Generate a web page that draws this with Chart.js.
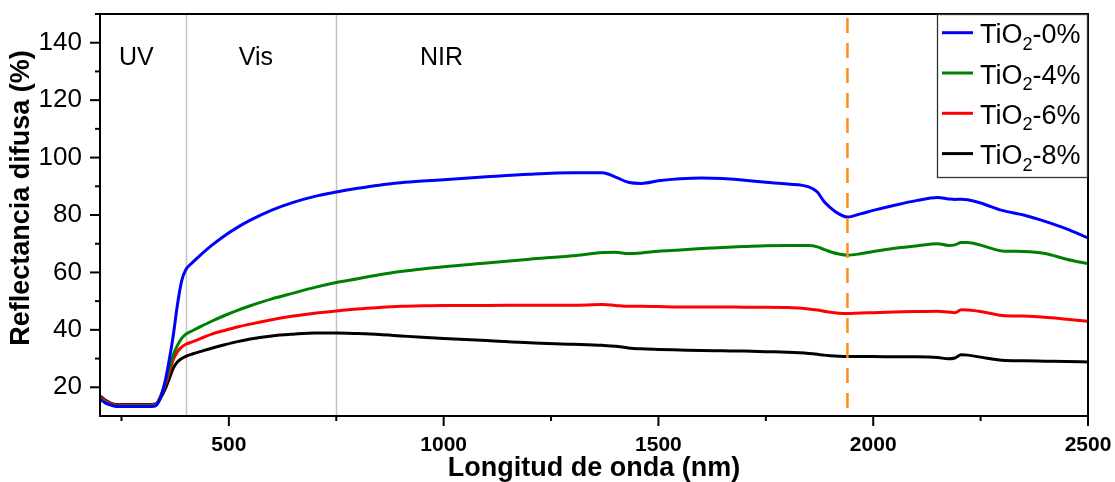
<!DOCTYPE html>
<html><head><meta charset="utf-8">
<script src="https://cdn.jsdelivr.net/npm/chart.js@4.4.1/dist/chart.umd.min.js"></script>
<style>html,body{margin:0;padding:0;background:#fff;}#wrap{width:1115px;height:482px;}</style>
</head><body>
<div id="wrap"><canvas id="c" width="1115" height="482"></canvas></div>
<script>
// ---- data ----
const wavelengths = [200,215,230,245,260,280,300,320,330,340,350,360,370,380,390,400,415,435,460,490,520,550,600,650,700,750,800,850,900,950,1000,1100,1200,1300,1370,1400,1430,1460,1500,1550,1600,1650,1700,1750,1800,1850,1870,1885,1900,1920,1940,1970,2000,2050,2100,2150,2175,2190,2205,2220,2250,2300,2350,2400,2450,2500];
const tio2_0 = [15.8,14.3,13.6,13.3,13.3,13.3,13.3,13.3,13.6,16,21,28.5,37.5,48.5,57,61,63.4,66.2,69.4,72.8,75.7,78.2,81.7,84.4,86.5,88,89.3,90.4,91.2,91.8,92.3,93.3,94.2,94.7,94.7,93.2,91.4,91.0,91.9,92.6,92.9,92.7,92.1,91.4,90.8,89.8,88,84.8,82.6,80.4,79.3,80.4,81.6,83.4,85.0,86.1,85.6,85.4,85.5,85.3,84.2,81.6,80.0,77.8,75.2,72.0];
const tio2_4 = [16.2,14.6,13.8,13.5,13.6,13.6,13.6,13.6,13.8,16.5,20.8,26,31.1,34.5,37,38.5,39.7,41.2,43,45.0,46.8,48.4,50.8,52.8,54.8,56.5,57.8,59.2,60.3,61.2,62,63.3,64.6,65.8,66.9,67.0,66.6,66.8,67.4,67.8,68.3,68.7,69.0,69.3,69.4,69.4,68.9,68.0,67.2,66.4,66.0,66.5,67.3,68.4,69.2,70.0,69.4,69.6,70.4,70.4,69.5,67.5,67.3,66.6,64.6,63.0];
const tio2_6 = [16.6,15,14,13.8,13.8,13.8,13.8,13.8,14,16.5,20,24.5,29.4,32.3,34,35,35.8,37,38.5,39.8,41,42,43.5,44.8,45.8,46.6,47.3,47.8,48.2,48.4,48.5,48.5,48.6,48.6,48.8,48.5,48.2,48.2,48.1,48.0,48.0,48.0,47.9,47.9,47.8,47.3,46.9,46.5,46.1,45.8,45.7,45.9,46.0,46.2,46.4,46.5,46.2,46.0,47.0,46.9,46.4,45.0,44.8,44.4,43.7,43.0];
const tio2_8 = [17,15.3,14.2,14,14,14,14,14,14.2,16,18.8,22.5,26.5,28.8,30,30.8,31.6,32.5,33.6,34.8,35.9,36.8,37.9,38.5,38.9,38.9,38.7,38.4,37.9,37.4,37.0,36.3,35.5,35.0,34.6,34.3,33.7,33.4,33.2,33.0,32.8,32.7,32.6,32.4,32.2,31.8,31.5,31.2,31.0,30.8,30.7,30.7,30.7,30.6,30.6,30.4,29.9,30.2,31.3,31.2,30.5,29.4,29.2,29.1,29.0,28.8];
const seriesLabels = ['TiO₂-0%','TiO₂-4%','TiO₂-6%','TiO₂-8%'];
const xTickValues = [500,1000,1500,2000,2500];
const xMinorValues = [250,750,1250,1750,2250];
const yTickValues = [20,40,60,80,100,120,140];
const yMinorValues = [30,50,70,90,110,130,150];
const regionLines = [400,750];
const regionTexts = [{t:'UV',x:244},{t:'Vis',x:523},{t:'NIR',x:945}];
const markerLine = 1940;
const xTitle = 'Longitud de onda (nm)';
const yTitle = 'Reflectancia difusa (%)';

// ---- styling ----
const FONT = '"Liberation Sans", Arial, sans-serif';
const colors = ['#0000ff','#008000','#ff0000','#000000'];
const allSeries = [tio2_0, tio2_4, tio2_6, tio2_8];

const decor = {
  id:'decor',
  beforeDatasetsDraw(chart){
    const {ctx, chartArea:a, scales:{x}} = chart;
    ctx.save();
    ctx.strokeStyle = '#c4c4c4'; ctx.lineWidth = 1.5;
    regionLines.forEach(v=>{
      const px = Math.round(x.getPixelForValue(v))+0.5;
      ctx.beginPath(); ctx.moveTo(px,a.top); ctx.lineTo(px,a.bottom); ctx.stroke();
    });
    ctx.restore();
  },
  afterDatasetsDraw(chart){
    const {ctx, chartArea:a, scales:{x,y}} = chart;
    ctx.save();
    const ox = x.getPixelForValue(markerLine);
    ctx.strokeStyle = '#ff8c1a'; ctx.lineWidth = 2.5; ctx.setLineDash([15,10]); ctx.lineDashOffset = -4;
    ctx.beginPath(); ctx.moveTo(ox,a.top); ctx.lineTo(ox,a.bottom); ctx.stroke();
    ctx.setLineDash([]);
    ctx.strokeStyle = '#000'; ctx.lineWidth = 2;
    ctx.strokeRect(a.left, a.top, a.right-a.left, a.bottom-a.top);
    const tick = (px, len, horiz) => {
      ctx.beginPath();
      if (horiz) { ctx.moveTo(px, a.bottom); ctx.lineTo(px, a.bottom+len); }
      else { ctx.moveTo(a.left, px); ctx.lineTo(a.left-len, px); }
      ctx.stroke();
    };
    xTickValues.forEach(v=>tick(x.getPixelForValue(v),10,true));
    xMinorValues.forEach(v=>tick(x.getPixelForValue(v),5,true));
    yTickValues.forEach(v=>tick(y.getPixelForValue(v),10,false));
    yMinorValues.forEach(v=>tick(y.getPixelForValue(v),5,false));
    ctx.fillStyle = '#000'; ctx.font = '25px '+FONT; ctx.textAlign='left'; ctx.textBaseline='alphabetic';
    regionTexts.forEach(r=>ctx.fillText(r.t, x.getPixelForValue(r.x), y.getPixelForValue(132.2)));
    ctx.save();
    ctx.translate(22, 198); ctx.rotate(-Math.PI/2);
    ctx.font = 'bold 27px '+FONT; ctx.textAlign='center'; ctx.textBaseline='middle';
    ctx.fillText(yTitle, 0, 0);
    ctx.restore();
    const lx = 937, ly = a.top, lw = a.right - lx, lh = 163;
    ctx.fillStyle = '#fff'; ctx.fillRect(lx, ly, lw, lh);
    ctx.strokeStyle = '#333'; ctx.lineWidth = 1.3;
    ctx.strokeRect(lx+0.5, ly+0.5, lw-1, lh);
    chart.data.datasets.forEach((ds,i)=>{
      const cy = ly + 18.7 + i*40.3;
      ctx.strokeStyle = ds.borderColor; ctx.lineWidth = 3;
      ctx.beginPath(); ctx.moveTo(942, cy); ctx.lineTo(973, cy); ctx.stroke();
      const parts = ds.label.split('₂');
      const base = cy + 10.6;
      ctx.fillStyle = '#000'; ctx.textAlign='left'; ctx.textBaseline='alphabetic';
      let tx = 980;
      ctx.font = '27px '+FONT; ctx.fillText(parts[0], tx, base); tx += ctx.measureText(parts[0]).width;
      ctx.font = '18px '+FONT; ctx.fillText('2', tx, base+6.5); tx += ctx.measureText('2').width;
      ctx.font = '27px '+FONT; ctx.fillText(parts[1], tx, base);
    });
    ctx.restore();
  }
};

new Chart(document.getElementById('c'), {
  type:'line',
  data:{
    datasets: allSeries.map((s,i)=>({
      label: seriesLabels[i],
      data: wavelengths.map((w,j)=>({x:w, y:s[j]})),
      borderColor: colors[i], backgroundColor: colors[i],
      borderWidth: 3, pointRadius: 0, fill:false,
      cubicInterpolationMode:'monotone'
    }))
  },
  options:{
    responsive:false, animation:false, devicePixelRatio:1,
    layout:{padding:{top:14, right:27, left:0, bottom:0}},
    plugins:{legend:{display:false}, tooltip:{enabled:false}},
    scales:{
      x:{
        type:'linear', min:200, max:2500,
        afterBuildTicks:s=>{ s.ticks = xTickValues.map(v=>({value:v})); },
        afterFit:s=>{ s.height = 66; s.paddingLeft = 0; s.paddingRight = 0; },
        grid:{display:false, drawTicks:false},
        border:{display:false},
        ticks:{padding:17, color:'#000', maxRotation:0, autoSkip:false,
          font:{family:FONT, size:21, weight:'bold'}, callback:v=>String(v)},
        title:{display:true, text:xTitle, color:'#000', padding:{top:0,bottom:0},
          font:{family:FONT, size:27, weight:'bold', lineHeight:1.0}}
      },
      y:{
        type:'linear', min:10, max:150,
        afterBuildTicks:s=>{ s.ticks = yTickValues.map(v=>({value:v})); },
        afterFit:s=>{ s.width = 100; s.paddingTop = 0; s.paddingBottom = 0; },
        grid:{display:false, drawTicks:false},
        border:{display:false},
        ticks:{padding:18, color:'#000', font:{family:FONT, size:26}, callback:v=>String(v)}
      }
    }
  },
  plugins:[decor]
});
</script>
</body></html>
